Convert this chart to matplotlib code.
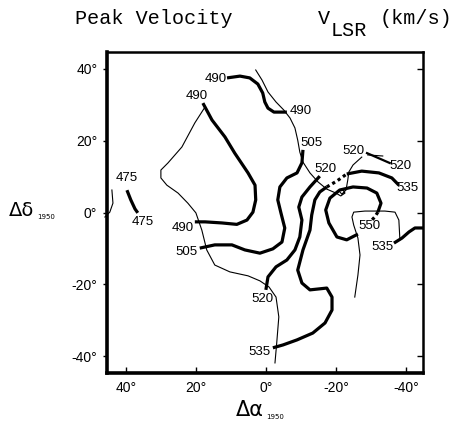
import matplotlib
matplotlib.use("Agg")
import matplotlib.pyplot as plt

# contour paths, offsets in degrees (x = delta alpha, y = delta delta)
c490_top_x = [11.1, 7.4, 4.6, 2.3, 0.9, 0.3, -0.6, -2.3, -6.0]
c490_top_y = [37.4, 37.9, 37.4, 35.7, 33.2, 30.7, 29.0, 27.9, 27.9]

c490_left_x = [18.0, 15.4, 11.7, 8.9, 5.1, 3.1, 2.9, 3.7, 5.4, 8.3, 12.6, 17.4, 20.3]
c490_left_y = [30.4, 25.7, 21.0, 16.5, 11.0, 7.6, 3.5, 0.1, -2.1, -3.3, -2.9, -2.6, -2.6]

c505_x = [-10.6, -10.3, -8.9, -6.0, -4.0, -3.4, -4.3, -5.4, -4.6, -2.0, 1.7, 6.0, 9.7, 14.6, 18.9]
c505_y = [17.4, 13.8, 11.0, 9.6, 7.1, 3.5, -0.1, -4.3, -8.2, -10.1, -11.3, -10.4, -9.0, -9.0, -9.9]

c520_x = [-15.4, -12.6, -10.3, -9.4, -10.3, -9.7, -8.3, -6.0, -2.9, -0.6, 0.0]
c520_y = [10.1, 7.1, 4.3, 1.5, -2.1, -6.8, -10.4, -13.2, -15.1, -17.9, -21.5]

c520_ne_x = [-28.9, -35.4]
c520_ne_y = [16.5, 13.75]

c535_x = [-2.0, -4.9, -8.9, -13.4, -16.9, -18.9, -18.9, -17.4, -12.6, -10.3, -9.1,
          -10.6, -12.6, -13.1, -14.0, -15.4, -17.4]
c535_y = [-37.6, -36.8, -35.4, -33.5, -30.7, -27.1, -23.5, -21.0, -21.5, -19.6, -16.0,
          -10.4, -4.9, -0.7, 3.5, 5.7, 7.1]
c535_dot_x = [-17.4, -20.3, -23.1]
c535_dot_y = [7.1, 8.75, 10.7]
c535_ne_x = [-23.1, -27.4, -32.3, -36.0, -38.0]
c535_ne_y = [10.7, 11.5, 11.0, 9.6, 7.6]

c535_se_x = [-36.6, -38.9, -40.9, -42.6, -44.9]
c535_se_y = [-8.5, -7.1, -5.4, -4.3, -4.3]

c550_x = [-26.3, -23.1, -20.3, -18.0, -17.1, -18.3, -21.1, -24.9, -28.9, -31.7, -32.9, -32.0]
c550_y = [-6.0, -7.6, -6.8, -2.9, 0.7, 4.0, 6.25, 7.1, 6.8, 5.4, 2.6, 0.1]
c550_dot_x = [-32.0, -31.1, -30.3]
c550_dot_y = [0.1, -1.25, -2.1]

c475_x = [39.7, 38.6, 37.4, 36.6]
c475_y = [6.2, 3.5, 1.0, -0.1]

# thin contours
t1_x = [2.9, 1.1, -0.6, -2.9, -5.1, -6.9, -8.3, -9.1, -9.7, -10.6, -12.6, -14.9, -17.4,
        -20.0, -21.4, -22.6, -22.0, -20.9, -21.7, -22.9, -23.4, -23.7, -24.9, -27.4]
t1_y = [39.6, 36.8, 33.5, 30.7, 28.5, 26.25, 23.5, 20.1, 16.8, 14.0, 11.0, 8.5, 6.5,
        5.4, 4.6, 5.4, 6.5, 6.0, 5.1, 6.25, 9.0, 11.25, 13.2, 15.4]

t2_x = [17.4, 20.3, 24.0, 28.0, 30.0, 30.0, 28.3, 25.1, 22.3, 20.0, 18.3, 16.9, 14.6,
        10.3, 5.1, 1.7, -0.9, -2.9, -3.7, -3.1, -2.6]
t2_y = [29.3, 24.9, 18.2, 13.75, 11.8, 9.6, 7.6, 5.4, 2.6, -0.1, -4.9, -10.4, -14.6,
        -16.5, -17.6, -19.0, -20.7, -23.5, -29.0, -36.25, -41.8]

t3_x = [-25.4, -26.3, -26.9, -26.3, -25.1, -24.6, -25.1, -28.3, -34.0, -36.9, -38.0, -38.3]
t3_y = [-23.5, -17.4, -11.8, -7.1, -3.5, -1.25, 0.1, 0.4, 0.4, 0.1, -2.1, -7.6]

t520_x = [-29.1, -33.4]
t520_y = [16.0, 15.7]

t_edge_x = [44.0, 43.7, 44.6, 46.0]
t_edge_y = [6.25, 2.6, 0.1, -1.25]

label_text = ["490", "490", "490", "490", "505", "505", "520", "520", "520", "520",
              "535", "535", "535", "550", "475", "475"]
label_x = [14.3, -10.0, 19.7, 23.7, -12.9, 22.6, -16.9, 1.1, -24.9, -38.6,
           1.7, -40.6, -33.4, -29.7, 39.7, 35.1]
label_y = [37.1, 28.2, 32.4, -4.3, 19.3, -11.0, 12.0, -24.0, 17.1, 12.9,
           -38.75, 6.8, -9.6, -3.75, 9.6, -2.6]

x_ticks = [40, 20, 0, -20, -40]
y_ticks = [40, 20, 0, -20, -40]

W, H = 473, 424
fig = plt.figure(figsize=(W / 100, H / 100), dpi=100)
ax = fig.add_axes([107 / W, 1 - 373 / H, (423 - 107) / W, (373 - 52) / H])
ax.set_xlim(45.4, -44.9)
ax.set_ylim(-44.6, 44.6)

thick = dict(color="black", lw=2.3, solid_capstyle="butt")
thin = dict(color="black", lw=0.8)

for xs, ys in [(c490_top_x, c490_top_y), (c490_left_x, c490_left_y), (c505_x, c505_y),
               (c520_x, c520_y), (c535_x, c535_y), (c535_ne_x, c535_ne_y),
               (c535_se_x, c535_se_y), (c550_x, c550_y), (c475_x, c475_y)]:
    ax.plot(xs, ys, **thick)
ax.plot(c520_ne_x, c520_ne_y, color="black", lw=1.6)
for xs, ys in [(c535_dot_x, c535_dot_y), (c550_dot_x, c550_dot_y)]:
    ax.plot(xs, ys, color="black", lw=2.3, ls=(0, (1, 1)))
for xs, ys in [(t1_x, t1_y), (t2_x, t2_y), (t3_x, t3_y), (t520_x, t520_y)]:
    ax.plot(xs, ys, **thin)
ax.plot(t_edge_x, t_edge_y, clip_on=False, **thin)

for t, x, y in zip(label_text, label_x, label_y):
    ax.text(x, y, t, ha="center", va="center", fontsize=9.5, family="Liberation Sans")

ax.spines["left"].set_linewidth(2.6)
ax.spines["bottom"].set_linewidth(2.6)
ax.spines["top"].set_linewidth(1.8)
ax.spines["right"].set_linewidth(1.8)
ax.set_xticks(x_ticks)
ax.set_xticklabels([f"{v}°" for v in x_ticks], family="Liberation Sans", fontsize=10)
ax.set_yticks(y_ticks)
ax.set_yticklabels([f"{v}°" for v in y_ticks], family="Liberation Sans", fontsize=10)
ax.tick_params(axis="x", direction="in", length=4, width=1, pad=6)
ax.tick_params(axis="y", direction="out", length=3, width=1, pad=4)

# right side ticks point inward, without labels
right = ax.secondary_yaxis("right")
right.set_yticks(y_ticks)
right.tick_params(direction="in", length=4, width=1, labelright=False)
right.spines["right"].set_visible(False)

# axis captions
fig.text(22 / W, 1 - 211 / H, "Δδ", fontsize=14, family="DejaVu Sans", ha="center", va="center")
fig.text(37 / W, 1 - 217 / H, "1950", fontsize=5, ha="left", va="center")
fig.text(250 / W, 1 - 410 / H, "Δα", fontsize=15, family="DejaVu Sans", ha="center", va="center")
fig.text(266 / W, 1 - 417 / H, "1950", fontsize=5, ha="left", va="center")

# title
mono = "Liberation Mono"
fig.text(75 / W, 1 - 19 / H, "Peak Velocity", fontsize=14.5, family=mono, ha="left", va="center")
fig.text(318 / W, 1 - 19 / H, "V", fontsize=14.5, family=mono, ha="left", va="center")
fig.text(331 / W, 1 - 30 / H, "LSR", fontsize=14.5, family=mono, ha="left", va="center")
fig.text(380 / W, 1 - 19 / H, "(km/s)", fontsize=14.5, family=mono, ha="left", va="center")

fig.savefig("out.png", dpi=100)
